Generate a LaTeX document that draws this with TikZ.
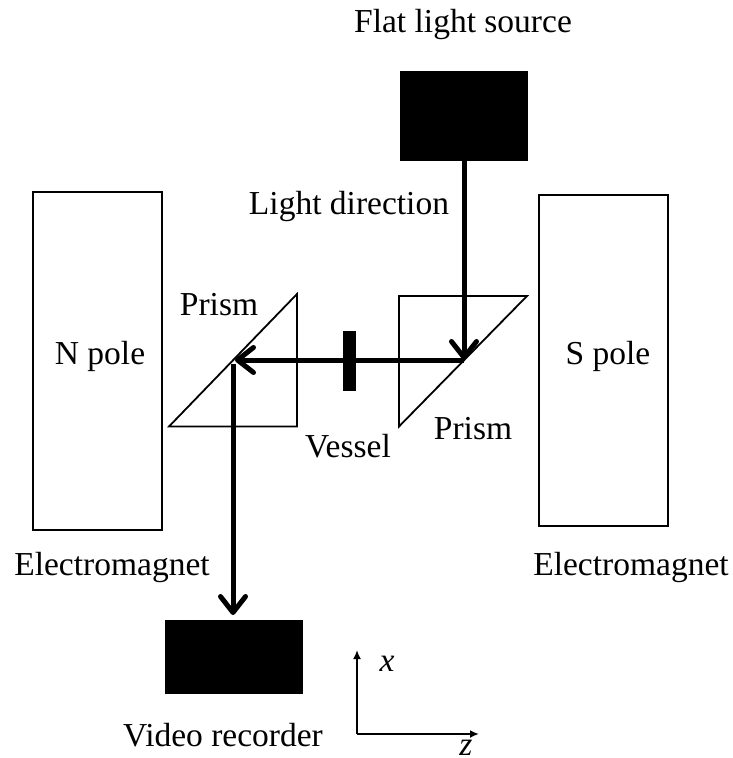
\documentclass[tikz,border=0pt]{standalone}
\usepackage{fontspec}
\setmainfont{Liberation Serif}
\usetikzlibrary{arrows}
\usetikzlibrary{arrows.meta}
\tikzset{
  label text/.style={inner sep=0pt,font=\fontsize{33.5}{35}\selectfont},
  magnet/.style={draw,line width=1.7pt,minimum width=129pt,inner sep=0pt},
  black box/.style={draw=none,fill=black,inner sep=0pt},
  prism/.style={line width=1.8pt,line join=miter},
  light ray/.style={line width=5pt,-{Straight Barb[length=16pt,width=25pt,line width=5pt,round]}},
  axis line/.style={line width=2.2pt,-{Latex[length=9pt,width=8pt]}}
}

\begin{document}
\begin{tikzpicture}[x=1pt,y=-1pt]
  \useasboundingbox (0,0) rectangle (733,758);

  % mirror points on the prisms
  \coordinate (TurnR) at (464,360);
  \coordinate (TurnL) at (235,360);
  \coordinate (Origin) at (357,734);
  \coordinate (Xend) at (357,650);
  \coordinate (Zend) at (479,734);
  \coordinate (StartL) at (233,364);
  \coordinate (EndL) at (233,615);

  \node [magnet,minimum height=338pt] (npole) at (97.5,361) {};
  \node [magnet,minimum height=331pt] (spole) at (603.5,360.5) {};

  \node [black box,minimum width=128pt,minimum height=90pt] (source) at (464,116) {};
  \node [black box,minimum width=138pt,minimum height=74pt] (recorder) at (234,657) {};
  \node [black box,minimum width=13pt,minimum height=60pt] (vessel) at (349.5,361) {};

  \draw [prism] (169,426.5) -- (297,426.5) -- (297,294) -- cycle;
  \draw [prism] (399,296) -- (527,296) -- (399,426.5) -- cycle;

  \draw [light ray] (source) -- (TurnR);
  \draw [light ray] (TurnR) -- (TurnL);
  \draw [light ray] (StartL) -- (EndL);
  \draw [axis line] (Origin) -- (Xend);
  \draw [axis line] (Origin) -- (Zend);

  \node [label text] (sourcelabel) at (463,24) {Flat light source};
  \node [label text] (directionlabel) at (349,206) {Light direction};
  \node [label text] (prismlabelL) at (219,305) {Prism};
  \node [label text] (prismlabelR) at (473,429) {Prism};
  \node [label text] (vessellabel) at (348,446) {Vessel};
  \node [label text] (nlabel) at (100,356) {N pole};
  \node [label text] (slabel) at (608,356) {S pole};
  \node [label text] (magnetL) at (112,567) {Electromagnet};
  \node [label text] (magnetR) at (631,567) {Electromagnet};
  \node [label text] (recorderlabel) at (223,735) {Video recorder};
  \node [label text,font=\fontsize{33.5}{35}\selectfont\itshape] (xlabel) at (387,664) {x};
  \node [label text,font=\fontsize{33.5}{35}\selectfont\itshape] (zlabel) at (466,748) {z};
\end{tikzpicture}
\end{document}
